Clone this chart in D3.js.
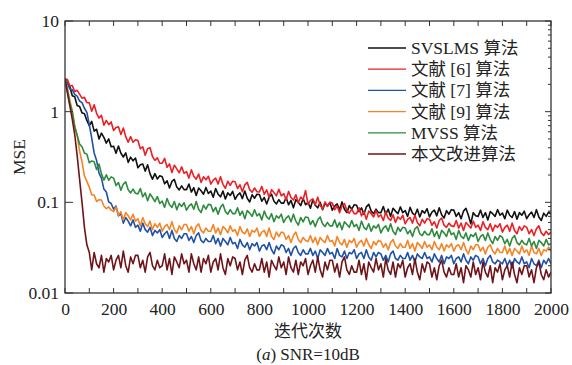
<!DOCTYPE html>
<html>
<head>
<meta charset="utf-8">
<script src="https://cdn.jsdelivr.net/npm/d3@7"></script>
<style>
  body { margin: 0; background: #fff; }
  svg { display: block; }
  text { font-family: "Liberation Serif", "Times New Roman", "Noto Sans CJK SC", serif; fill: #222; }
</style>
</head>
<body>
<svg id="chart" width="572" height="365"></svg>
<script>
const iterStep = 10

const svslms = [
  2.30, 2.05, 1.88, 1.50, 1.46, 1.17, 1.14, 0.97, 0.95, 0.80,
  0.70, 0.78, 0.61, 0.64, 0.50, 0.58, 0.52, 0.45, 0.50, 0.41,
  0.416, 0.347, 0.418, 0.348, 0.316, 0.351, 0.276, 0.315, 0.287, 0.308,
  0.241, 0.260, 0.265, 0.221, 0.259, 0.206, 0.180, 0.207, 0.181, 0.196,
  0.191, 0.160, 0.173, 0.144, 0.170, 0.179, 0.148, 0.137, 0.152, 0.138,
  0.138, 0.159, 0.130, 0.145, 0.119, 0.144, 0.134, 0.123, 0.146, 0.125,
  0.133, 0.114, 0.142, 0.123, 0.115, 0.133, 0.109, 0.127, 0.119, 0.132,
  0.108, 0.120, 0.127, 0.110, 0.133, 0.111, 0.101, 0.121, 0.111, 0.123,
  0.122, 0.103, 0.113, 0.096, 0.114, 0.123, 0.103, 0.096, 0.107, 0.098,
  0.098, 0.113, 0.094, 0.105, 0.087, 0.107, 0.100, 0.092, 0.110, 0.094,
  0.100, 0.086, 0.107, 0.093, 0.087, 0.100, 0.083, 0.097, 0.091, 0.100,
  0.082, 0.091, 0.096, 0.083, 0.101, 0.084, 0.077, 0.092, 0.084, 0.094,
  0.093, 0.079, 0.087, 0.074, 0.089, 0.095, 0.080, 0.075, 0.084, 0.077,
  0.077, 0.090, 0.074, 0.084, 0.070, 0.086, 0.080, 0.075, 0.089, 0.077,
  0.081, 0.070, 0.088, 0.076, 0.072, 0.084, 0.069, 0.081, 0.076, 0.085,
  0.069, 0.078, 0.082, 0.071, 0.087, 0.073, 0.067, 0.081, 0.074, 0.083,
  0.082, 0.070, 0.077, 0.066, 0.080, 0.086, 0.072, 0.058, 0.077, 0.071,
  0.070, 0.082, 0.068, 0.077, 0.064, 0.079, 0.075, 0.070, 0.083, 0.072,
  0.076, 0.066, 0.082, 0.072, 0.068, 0.079, 0.065, 0.077, 0.072, 0.080,
  0.066, 0.073, 0.078, 0.068, 0.083, 0.069, 0.063, 0.076, 0.070, 0.078,
  0.074
]

const ref6 = [
  2.30, 2.26, 1.92, 1.94, 1.67, 1.72, 1.56, 1.41, 1.44, 1.26,
  1.25, 1.01, 1.19, 0.96, 0.85, 0.91, 0.71, 0.80, 0.72, 0.77,
  0.62, 0.67, 0.68, 0.56, 0.66, 0.53, 0.46, 0.53, 0.46, 0.49,
  0.48, 0.39, 0.41, 0.33, 0.39, 0.40, 0.32, 0.29, 0.31, 0.27,
  0.271, 0.305, 0.244, 0.265, 0.213, 0.257, 0.234, 0.212, 0.246, 0.209,
  0.218, 0.185, 0.228, 0.194, 0.180, 0.205, 0.166, 0.191, 0.177, 0.194,
  0.159, 0.176, 0.185, 0.159, 0.192, 0.158, 0.143, 0.171, 0.154, 0.171,
  0.169, 0.142, 0.156, 0.131, 0.156, 0.166, 0.138, 0.129, 0.144, 0.131,
  0.130, 0.150, 0.123, 0.137, 0.114, 0.138, 0.128, 0.118, 0.139, 0.118,
  0.125, 0.106, 0.132, 0.113, 0.106, 0.121, 0.099, 0.114, 0.107, 0.135,
  0.095, 0.105, 0.109, 0.094, 0.114, 0.093, 0.084, 0.101, 0.090, 0.100,
  0.098, 0.083, 0.091, 0.077, 0.091, 0.097, 0.081, 0.076, 0.084, 0.075,
  0.075, 0.087, 0.071, 0.079, 0.065, 0.080, 0.075, 0.069, 0.081, 0.069,
  0.073, 0.063, 0.078, 0.067, 0.063, 0.073, 0.060, 0.069, 0.065, 0.072,
  0.058, 0.065, 0.068, 0.059, 0.072, 0.060, 0.055, 0.065, 0.059, 0.066,
  0.065, 0.056, 0.061, 0.052, 0.063, 0.067, 0.056, 0.053, 0.059, 0.055,
  0.054, 0.063, 0.052, 0.059, 0.049, 0.060, 0.056, 0.052, 0.062, 0.053,
  0.056, 0.049, 0.061, 0.053, 0.050, 0.058, 0.048, 0.056, 0.053, 0.058,
  0.047, 0.053, 0.056, 0.048, 0.059, 0.049, 0.045, 0.054, 0.049, 0.055,
  0.053, 0.045, 0.050, 0.043, 0.051, 0.055, 0.046, 0.043, 0.048, 0.044,
  0.047
]

const ref7 = [
  2.30, 2.04, 1.78, 1.74, 1.55, 1.48, 1.31, 1.26, 1.09, 0.98,
  0.72, 0.51, 0.35, 0.29, 0.21, 0.185, 0.14, 0.13, 0.101, 0.097,
  0.084, 0.091, 0.071, 0.075, 0.059, 0.068, 0.062, 0.055, 0.064, 0.053,
  0.056, 0.048, 0.059, 0.050, 0.047, 0.053, 0.043, 0.049, 0.046, 0.050,
  0.041, 0.045, 0.048, 0.040, 0.049, 0.040, 0.037, 0.043, 0.040, 0.045,
  0.045, 0.038, 0.042, 0.036, 0.043, 0.046, 0.038, 0.036, 0.040, 0.037,
  0.037, 0.043, 0.035, 0.040, 0.033, 0.040, 0.037, 0.034, 0.041, 0.035,
  0.036, 0.031, 0.039, 0.034, 0.032, 0.036, 0.030, 0.035, 0.033, 0.036,
  0.029, 0.033, 0.034, 0.030, 0.036, 0.030, 0.027, 0.033, 0.030, 0.034,
  0.033, 0.028, 0.031, 0.026, 0.031, 0.033, 0.028, 0.026, 0.030, 0.027,
  0.027, 0.031, 0.026, 0.029, 0.024, 0.030, 0.028, 0.026, 0.031, 0.027,
  0.028, 0.024, 0.031, 0.026, 0.025, 0.029, 0.024, 0.028, 0.027, 0.030,
  0.024, 0.027, 0.028, 0.024, 0.030, 0.025, 0.023, 0.028, 0.025, 0.028,
  0.027, 0.023, 0.026, 0.022, 0.027, 0.029, 0.024, 0.023, 0.026, 0.024,
  0.024, 0.028, 0.023, 0.026, 0.022, 0.027, 0.025, 0.024, 0.028, 0.024,
  0.025, 0.022, 0.027, 0.024, 0.022, 0.026, 0.021, 0.025, 0.024, 0.026,
  0.021, 0.024, 0.025, 0.022, 0.027, 0.023, 0.021, 0.025, 0.023, 0.026,
  0.025, 0.021, 0.024, 0.020, 0.024, 0.026, 0.022, 0.021, 0.023, 0.022,
  0.021, 0.024, 0.020, 0.023, 0.019, 0.024, 0.022, 0.021, 0.025, 0.021,
  0.022, 0.019, 0.024, 0.021, 0.020, 0.023, 0.019, 0.023, 0.021, 0.024,
  0.021
]

const ref9 = [
  2.30, 1.82, 1.33, 1.02, 0.70, 0.55, 0.37, 0.28, 0.195, 0.17,
  0.147, 0.121, 0.120, 0.102, 0.107, 0.106, 0.091, 0.085, 0.089, 0.082,
  0.079, 0.089, 0.072, 0.079, 0.064, 0.077, 0.071, 0.064, 0.074, 0.062,
  0.066, 0.055, 0.068, 0.058, 0.054, 0.062, 0.050, 0.058, 0.053, 0.059,
  0.048, 0.054, 0.057, 0.050, 0.061, 0.050, 0.046, 0.055, 0.050, 0.057,
  0.057, 0.048, 0.054, 0.045, 0.054, 0.058, 0.049, 0.046, 0.052, 0.048,
  0.048, 0.057, 0.046, 0.052, 0.044, 0.054, 0.051, 0.046, 0.055, 0.048,
  0.050, 0.043, 0.054, 0.047, 0.045, 0.051, 0.042, 0.049, 0.047, 0.052,
  0.042, 0.047, 0.049, 0.042, 0.052, 0.042, 0.039, 0.047, 0.042, 0.047,
  0.046, 0.039, 0.043, 0.036, 0.043, 0.047, 0.039, 0.036, 0.041, 0.038,
  0.037, 0.043, 0.036, 0.041, 0.034, 0.041, 0.038, 0.036, 0.043, 0.037,
  0.038, 0.033, 0.042, 0.036, 0.034, 0.039, 0.032, 0.038, 0.036, 0.040,
  0.032, 0.036, 0.038, 0.033, 0.040, 0.034, 0.031, 0.037, 0.034, 0.038,
  0.037, 0.032, 0.035, 0.030, 0.036, 0.039, 0.033, 0.031, 0.035, 0.032,
  0.032, 0.038, 0.031, 0.035, 0.029, 0.036, 0.034, 0.031, 0.037, 0.032,
  0.034, 0.030, 0.037, 0.032, 0.030, 0.035, 0.029, 0.034, 0.032, 0.035,
  0.029, 0.033, 0.034, 0.030, 0.036, 0.030, 0.027, 0.033, 0.030, 0.034,
  0.034, 0.029, 0.032, 0.027, 0.032, 0.034, 0.029, 0.027, 0.031, 0.028,
  0.028, 0.033, 0.027, 0.031, 0.026, 0.031, 0.029, 0.027, 0.033, 0.028,
  0.030, 0.026, 0.033, 0.028, 0.027, 0.031, 0.026, 0.030, 0.029, 0.032,
  0.029
]

const mvss = [
  2.30, 1.72, 1.24, 0.98, 0.68, 0.55, 0.44, 0.41, 0.35, 0.34,
  0.273, 0.286, 0.281, 0.230, 0.265, 0.206, 0.176, 0.201, 0.175, 0.191,
  0.185, 0.153, 0.165, 0.136, 0.159, 0.168, 0.138, 0.127, 0.140, 0.126,
  0.124, 0.142, 0.115, 0.127, 0.104, 0.124, 0.113, 0.102, 0.116, 0.097,
  0.103, 0.088, 0.110, 0.094, 0.088, 0.102, 0.083, 0.097, 0.090, 0.099,
  0.082, 0.091, 0.096, 0.084, 0.102, 0.084, 0.077, 0.093, 0.084, 0.095,
  0.094, 0.079, 0.088, 0.074, 0.088, 0.095, 0.079, 0.074, 0.083, 0.075,
  0.075, 0.087, 0.072, 0.080, 0.066, 0.081, 0.076, 0.070, 0.083, 0.071,
  0.075, 0.064, 0.080, 0.069, 0.065, 0.075, 0.061, 0.071, 0.067, 0.074,
  0.060, 0.067, 0.071, 0.061, 0.074, 0.062, 0.056, 0.068, 0.061, 0.069,
  0.068, 0.057, 0.063, 0.054, 0.064, 0.069, 0.058, 0.054, 0.060, 0.055,
  0.055, 0.064, 0.053, 0.060, 0.050, 0.061, 0.057, 0.053, 0.063, 0.054,
  0.057, 0.049, 0.062, 0.053, 0.050, 0.058, 0.048, 0.055, 0.052, 0.057,
  0.046, 0.052, 0.055, 0.048, 0.058, 0.048, 0.044, 0.053, 0.048, 0.053,
  0.052, 0.045, 0.049, 0.042, 0.051, 0.054, 0.045, 0.043, 0.048, 0.044,
  0.044, 0.051, 0.042, 0.048, 0.040, 0.049, 0.046, 0.042, 0.051, 0.044,
  0.046, 0.039, 0.049, 0.042, 0.040, 0.046, 0.038, 0.044, 0.042, 0.046,
  0.037, 0.042, 0.044, 0.038, 0.046, 0.039, 0.035, 0.042, 0.038, 0.043,
  0.041, 0.035, 0.039, 0.033, 0.040, 0.043, 0.036, 0.034, 0.038, 0.035,
  0.034, 0.040, 0.033, 0.037, 0.031, 0.038, 0.036, 0.033, 0.039, 0.034,
  0.035
]

const proposed = [
  2.30, 1.60, 1.15, 0.82, 0.56, 0.33, 0.18, 0.10, 0.053, 0.034,
  0.028, 0.018, 0.028, 0.021, 0.019, 0.026, 0.017, 0.024, 0.022, 0.026,
  0.018, 0.023, 0.026, 0.019, 0.029, 0.020, 0.017, 0.025, 0.021, 0.026,
  0.026, 0.019, 0.023, 0.017, 0.025, 0.028, 0.020, 0.018, 0.023, 0.019,
  0.020, 0.027, 0.018, 0.024, 0.016, 0.025, 0.022, 0.019, 0.027, 0.021,
  0.023, 0.017, 0.027, 0.021, 0.018, 0.025, 0.017, 0.024, 0.021, 0.026,
  0.017, 0.022, 0.024, 0.018, 0.027, 0.019, 0.016, 0.024, 0.020, 0.025,
  0.024, 0.018, 0.022, 0.016, 0.023, 0.026, 0.019, 0.017, 0.021, 0.018,
  0.018, 0.024, 0.017, 0.022, 0.015, 0.023, 0.020, 0.018, 0.025, 0.019,
  0.022, 0.016, 0.025, 0.019, 0.017, 0.023, 0.016, 0.022, 0.020, 0.024,
  0.016, 0.020, 0.023, 0.017, 0.025, 0.018, 0.015, 0.022, 0.018, 0.023,
  0.023, 0.017, 0.021, 0.015, 0.022, 0.025, 0.018, 0.016, 0.020, 0.017,
  0.017, 0.023, 0.016, 0.021, 0.014, 0.022, 0.019, 0.017, 0.024, 0.018,
  0.021, 0.015, 0.024, 0.018, 0.016, 0.022, 0.015, 0.021, 0.019, 0.023,
  0.015, 0.019, 0.021, 0.016, 0.024, 0.017, 0.014, 0.021, 0.017, 0.022,
  0.021, 0.015, 0.019, 0.014, 0.020, 0.023, 0.017, 0.015, 0.019, 0.016,
  0.016, 0.021, 0.015, 0.019, 0.013, 0.020, 0.018, 0.015, 0.022, 0.016,
  0.019, 0.014, 0.022, 0.017, 0.015, 0.020, 0.013, 0.019, 0.017, 0.021,
  0.014, 0.018, 0.020, 0.015, 0.022, 0.016, 0.013, 0.019, 0.016, 0.020,
  0.020, 0.015, 0.018, 0.013, 0.019, 0.022, 0.016, 0.014, 0.018, 0.015,
  0.017
]

const seriesNames = ['SVSLMS 算法', '文献 [6] 算法', '文献 [7] 算法', '文献 [9] 算法', 'MVSS 算法', '本文改进算法']
const seriesColors = ['#111111', '#ec1f24', '#1f52a6', '#f58426', '#2e8a3e', '#6e1419']
const seriesData = [svslms, ref6, ref7, ref9, mvss, proposed]

const xTicks = [0, 200, 400, 600, 800, 1000, 1200, 1400, 1600, 1800, 2000]
const yTicks = [0.01, 0.1, 1, 10]
const yTickLabels = ['0.01', '0.1', '1', '10']

const margin = { left: 65, top: 21, right: 21, bottom: 72 }
const width = 572 - margin.left - margin.right
const height = 365 - margin.top - margin.bottom

const svg = d3.select('#chart')

const x = d3.scaleLinear().domain([0, 2000]).range([margin.left, margin.left + width])
const y = d3.scaleLog().domain([0.01, 10]).range([margin.top + height, margin.top])

svg.append('defs').append('clipPath').attr('id', 'plotclip')
  .append('rect')
  .attr('x', margin.left).attr('y', margin.top)
  .attr('width', width).attr('height', height)

// curves
let line = d3.line()
  .x(function (d, i) { return x(i * iterStep) })
  .y(function (d) { return y(d) })

let curves = svg.append('g').attr('clip-path', 'url(#plotclip)')
seriesData.forEach(function (s, k) {
  curves.append('path')
    .datum(s)
    .attr('fill', 'none')
    .attr('stroke', seriesColors[k])
    .attr('stroke-width', 1.6)
    .attr('stroke-linejoin', 'round')
    .attr('d', line)
})

// axes, ticks pointing inward
const axisColor = '#333'
let minorX = d3.range(0, 2001, 100)

svg.append('g')
  .attr('transform', 'translate(0,' + (margin.top + height) + ')')
  .call(d3.axisBottom(x).tickValues(xTicks).tickSize(0).tickPadding(10).tickFormat(d3.format('d')))
  .call(function (g) {
    g.select('.domain').remove()
    g.selectAll('text').attr('font-size', 17.5).attr('fill', '#222')
      .attr('font-family', '"Liberation Serif", "Times New Roman", serif')
  })

let tickG = svg.append('g').attr('stroke', axisColor).attr('stroke-width', 1)
minorX.forEach(function (v) {
  tickG.append('line').attr('x1', x(v)).attr('x2', x(v))
    .attr('y1', margin.top + height).attr('y2', margin.top + height - 5)
  tickG.append('line').attr('x1', x(v)).attr('x2', x(v))
    .attr('y1', margin.top).attr('y2', margin.top + 5)
})
yTicks.forEach(function (v) {
  tickG.append('line').attr('x1', margin.left).attr('x2', margin.left + 8)
    .attr('y1', y(v)).attr('y2', y(v))
  tickG.append('line').attr('x1', margin.left + width).attr('x2', margin.left + width - 6)
    .attr('y1', y(v)).attr('y2', y(v))
})
// log minor ticks on the right side only
let logMinor = []
;[0.01, 0.1, 1].forEach(function (dec) {
  for (let m = 2; m <= 9; m++) logMinor.push(dec * m)
})
logMinor.forEach(function (v) {
  tickG.append('line').attr('x1', margin.left + width).attr('x2', margin.left + width - 3)
    .attr('y1', y(v)).attr('y2', y(v))
})

svg.append('rect')
  .attr('x', margin.left).attr('y', margin.top)
  .attr('width', width).attr('height', height)
  .attr('fill', 'none').attr('stroke', axisColor).attr('stroke-width', 1.3)

svg.append('g').selectAll('text')
  .data(yTicks)
  .enter().append('text')
  .attr('x', margin.left - 6)
  .attr('y', function (d) { return y(d) })
  .attr('dy', '0.35em')
  .attr('text-anchor', 'end')
  .attr('font-size', 17.5)
  .text(function (d, i) { return yTickLabels[i] })

// axis titles
svg.append('text')
  .attr('transform', 'translate(25,' + (margin.top + height / 2) + ') rotate(-90)')
  .attr('text-anchor', 'middle')
  .attr('font-size', 17.5)
  .text('MSE')

svg.append('text')
  .attr('x', margin.left + width / 2).attr('y', 337)
  .attr('text-anchor', 'middle')
  .attr('font-size', 17)
  .text('迭代次数')

let cap = svg.append('text')
  .attr('x', margin.left + width / 2).attr('y', 360)
  .attr('text-anchor', 'middle')
  .attr('font-size', 17)
cap.append('tspan').text('(')
cap.append('tspan').attr('font-style', 'italic').text('a')
cap.append('tspan').text(') SNR=10dB')

// legend
let legend = svg.append('g')
seriesNames.forEach(function (name, k) {
  let cy = 48 + k * 21.2
  legend.append('line')
    .attr('x1', 368).attr('x2', 406)
    .attr('y1', cy).attr('y2', cy)
    .attr('stroke', seriesColors[k]).attr('stroke-width', 1.3)
  legend.append('text')
    .attr('x', 411).attr('y', cy + 6)
    .attr('font-size', 17.5)
    .text(name)
})
</script>
</body>
</html>
